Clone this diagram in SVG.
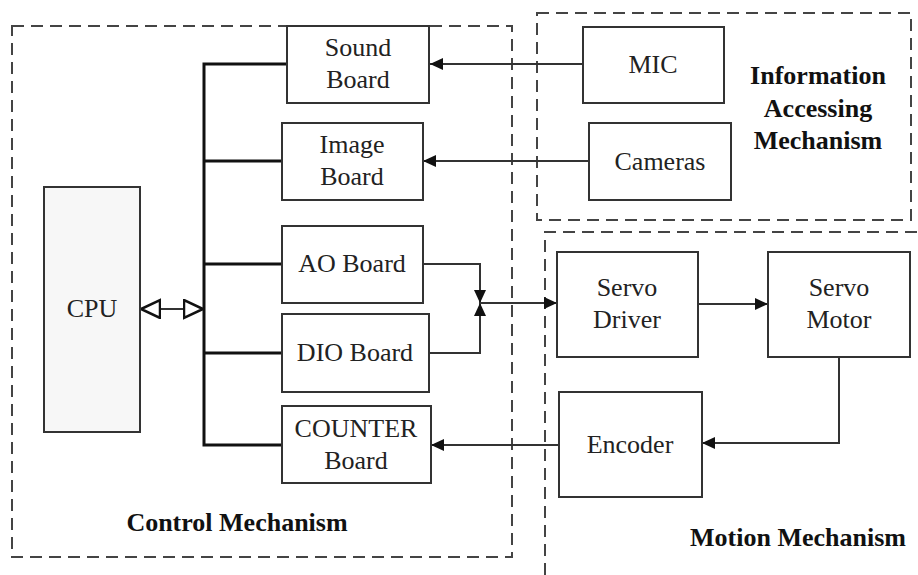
<svg xmlns="http://www.w3.org/2000/svg" width="918" height="575" viewBox="0 0 918 575">
  <style>
    .frame { fill: none; stroke: #444; stroke-width: 2; stroke-dasharray: 12 7; }
    .box { fill: #fff; stroke: #333; stroke-width: 2; }
    .cpu { fill: #f7f7f7; stroke: #333; stroke-width: 2; }
    .lbl { font-family: "Liberation Serif", "Times New Roman", serif; font-size: 26px; fill: #222; text-anchor: middle; }
    .title { font-family: "Liberation Serif", "Times New Roman", serif; font-size: 26px; font-weight: bold; fill: #111; text-anchor: middle; }
    .wire { fill: none; stroke: #333; stroke-width: 2; }
    .bus { fill: none; stroke: #111; stroke-width: 3; }
  </style>
  <defs>
    <marker id="arrow" markerWidth="14" markerHeight="14" refX="13" refY="7" orient="auto" markerUnits="userSpaceOnUse">
      <path d="M0,1 L13,7 L0,13 Z" fill="#111"/>
    </marker>
    <marker id="open" markerWidth="22" markerHeight="22" refX="20" refY="10" orient="auto-start-reverse" markerUnits="userSpaceOnUse">
      <path d="M1,1 L20,10 L1,19 Z" fill="#fff" stroke="#111" stroke-width="2.5"/>
    </marker>
  </defs>

  <!-- mechanism frames -->
  <g id="frames">
    <rect class="frame" x="12" y="26" width="500" height="531"/>
    <rect class="frame" x="537" y="13" width="374" height="207"/>
    <path class="frame" d="M545,575 L545,232 L918,232"/>
    <text class="title" x="237" y="531">Control Mechanism</text>
    <text class="title" x="798" y="546">Motion Mechanism</text>
    <text class="title" x="818" y="84">Information</text>
    <text class="title" x="818" y="117">Accessing</text>
    <text class="title" x="818" y="149">Mechanism</text>
  </g>

  <!-- connectors -->
  <g id="connectors">
    <path class="bus" d="M287,64 L204,64 L204,445 L282,445"/>
    <path class="bus" d="M204,161 L282,161"/>
    <path class="bus" d="M204,264 L282,264"/>
    <path class="bus" d="M204,353 L282,353"/>
    <path class="wire" d="M141,309 L203,309" stroke-width="2.5" marker-start="url(#open)" marker-end="url(#open)"/>
    <path class="wire" d="M583,64 L430,64" marker-end="url(#arrow)"/>
    <path class="wire" d="M589,161 L423,161" marker-end="url(#arrow)"/>
    <path class="wire" d="M423,264 L480,264 L480,303" marker-end="url(#arrow)"/>
    <path class="wire" d="M429,353 L480,353 L480,303" marker-end="url(#arrow)"/>
    <path class="wire" d="M480,303 L557,303" marker-end="url(#arrow)"/>
    <path class="wire" d="M698,304 L768,304" marker-end="url(#arrow)"/>
    <path class="wire" d="M839,357 L839,443 L702,443" marker-end="url(#arrow)"/>
    <path class="wire" d="M559,445 L431,445" marker-end="url(#arrow)"/>
  </g>

  <g id="cpu">
    <rect class="cpu" x="44" y="187" width="96" height="245"/>
    <text class="lbl" x="92" y="317">CPU</text>
  </g>
  <g id="sound-board">
    <rect class="box" x="287" y="26" width="142" height="77"/>
    <text class="lbl" x="358" y="56">Sound</text>
    <text class="lbl" x="358" y="88">Board</text>
  </g>
  <g id="image-board">
    <rect class="box" x="282" y="123" width="141" height="77"/>
    <text class="lbl" x="352" y="153">Image</text>
    <text class="lbl" x="352" y="185">Board</text>
  </g>
  <g id="ao-board">
    <rect class="box" x="282" y="226" width="141" height="77"/>
    <text class="lbl" x="352" y="272">AO Board</text>
  </g>
  <g id="dio-board">
    <rect class="box" x="282" y="314" width="147" height="78"/>
    <text class="lbl" x="355" y="361">DIO Board</text>
  </g>
  <g id="counter-board">
    <rect class="box" x="282" y="406" width="149" height="77"/>
    <text class="lbl" x="356" y="437">COUNTER</text>
    <text class="lbl" x="356" y="469">Board</text>
  </g>
  <g id="mic">
    <rect class="box" x="583" y="27" width="141" height="76"/>
    <text class="lbl" x="653" y="73">MIC</text>
  </g>
  <g id="cameras">
    <rect class="box" x="589" y="123" width="142" height="77"/>
    <text class="lbl" x="660" y="170">Cameras</text>
  </g>
  <g id="servo-driver">
    <rect class="box" x="557" y="252" width="141" height="105"/>
    <text class="lbl" x="627" y="296">Servo</text>
    <text class="lbl" x="627" y="328">Driver</text>
  </g>
  <g id="servo-motor">
    <rect class="box" x="768" y="252" width="142" height="105"/>
    <text class="lbl" x="839" y="296">Servo</text>
    <text class="lbl" x="839" y="328">Motor</text>
  </g>
  <g id="encoder">
    <rect class="box" x="559" y="392" width="143" height="105"/>
    <text class="lbl" x="630" y="453">Encoder</text>
  </g>
</svg>
